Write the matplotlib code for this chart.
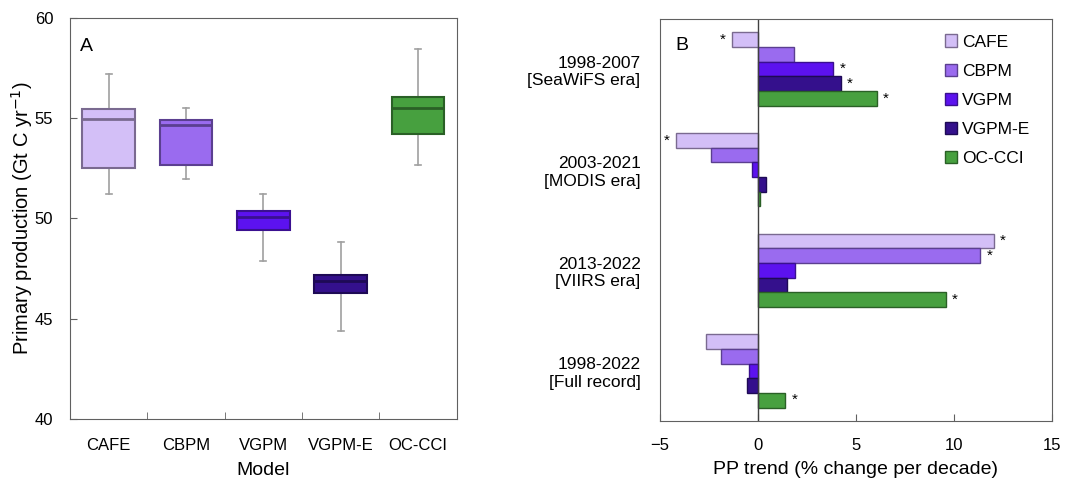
import numpy as np
import matplotlib
matplotlib.use("Agg")
import matplotlib.pyplot as plt

plt.rcParams['font.family'] = ['Liberation Sans', 'DejaVu Sans']
plt.rcParams['font.size'] = 12

# Panel A: box statistics per model
models = ["CAFE", "CBPM", "VGPM", "VGPM-E", "OC-CCI"]
whisk_lo = [51.2, 51.95, 47.9, 44.4, 52.65]
q1 = [52.5, 52.65, 49.4, 46.3, 54.2]
median = [54.95, 54.65, 50.05, 46.9, 55.5]
q3 = [55.45, 54.9, 50.35, 47.2, 56.05]
whisk_hi = [57.2, 55.5, 51.2, 48.85, 58.45]

# Panel B: PP trend (% change per decade)
periods = ["1998-2007\n[SeaWiFS era]", "2003-2021\n[MODIS era]",
           "2013-2022\n[VIIRS era]", "1998-2022\n[Full record]"]
trend = {
    "CAFE":   [-1.35, -4.2, 12.05, -2.65],
    "CBPM":   [1.82, -2.4, 11.35, -1.88],
    "VGPM":   [3.85, -0.33, 1.9, -0.45],
    "VGPM-E": [4.25, 0.4, 1.47, -0.58],
    "OC-CCI": [6.05, 0.12, 9.58, 1.4],
}
signif = {
    "CAFE":   [True, True, True, False],
    "CBPM":   [False, False, True, False],
    "VGPM":   [True, False, False, False],
    "VGPM-E": [True, False, False, False],
    "OC-CCI": [True, False, True, True],
}

colors = ["#d3bff7", "#9a6bef", "#5c12ef", "#34108c", "#47a03f"]
edges = ["#7a6a90", "#5b3f90", "#3a1090", "#1e0a55", "#2a6026"]

fig = plt.figure(figsize=(10.72, 4.83), dpi=100)
axA = fig.add_axes([0.0653, 0.1325, 0.3607, 0.8305])
axB = fig.add_axes([0.6157, 0.128, 0.3656, 0.833])

stats = []
for i, m in enumerate(models):
    stats.append(dict(label=m, whislo=whisk_lo[i], q1=q1[i], med=median[i],
                      q3=q3[i], whishi=whisk_hi[i], fliers=[]))
bp = axA.bxp(stats, positions=range(len(models)), widths=0.68, patch_artist=True,
             showfliers=False,
             whiskerprops=dict(color="#a0a0a0", lw=1.2, zorder=1),
             capprops=dict(color="#a0a0a0", lw=1.2),
             capwidths=0.08)
for i, box in enumerate(bp["boxes"]):
    box.set_facecolor(colors[i])
    box.set_edgecolor(edges[i])
    box.set_linewidth(1.5)
    box.set_zorder(3)
    bp["medians"][i].set_color(edges[i])
    bp["medians"][i].set_linewidth(2)
    bp["medians"][i].set_zorder(4)

axA.set_xlim(-0.5, 4.5)
axA.set_ylim(40, 60)
axA.set_yticks([40, 45, 50, 55, 60])
axA.set_xticks(range(len(models)))
axA.set_xticklabels(models)
axA.tick_params(axis="x", length=0, pad=14)
axA.set_xticks(np.arange(0.5, 4, 1), minor=True)
axA.tick_params(axis="x", which="minor", direction="in", length=5, color="#606060")
axA.tick_params(axis="y", direction="in", length=5, color="#606060", pad=12)
axA.set_xlabel("Model", fontsize=14, labelpad=6)
axA.set_ylabel("Primary production (Gt C yr$^{-1}$)", fontsize=14.5, labelpad=0)
axA.text(0.026, 0.95, "A", transform=axA.transAxes, fontsize=14, va="top")
for s in axA.spines.values():
    s.set_color("#606060")

# Panel B
bar_h = 0.146
y = np.arange(len(periods))
for j, m in enumerate(models):
    yy = y - 2 * bar_h + j * bar_h
    vals = trend[m]
    axB.barh(yy, vals, height=bar_h, color=colors[j], edgecolor=edges[j],
             lw=1, label=m)
    for k, v in enumerate(vals):
        if signif[m][k]:
            off = 0.45 if v >= 0 else -0.45
            axB.text(v + off, yy[k], "*", ha="center", va="center", fontsize=11)

axB.axvline(0, color="#404040", lw=1)
axB.set_xlim(-5, 15)
axB.set_ylim(3.5, -0.5)
axB.set_xticks([-5, 0, 5, 10, 15])
axB.set_yticks(y)
axB.set_yticklabels(periods, ha="right", fontsize=12.5)
axB.tick_params(axis="y", length=0, pad=14)
axB.tick_params(axis="x", direction="in", length=5, color="#606060", pad=12)
axB.set_xlabel("PP trend (% change per decade)", fontsize=14, labelpad=6)
axB.text(0.04, 0.955, "B", transform=axB.transAxes, fontsize=14, va="top")
for s in axB.spines.values():
    s.set_color("#606060")
axB.legend(loc="upper right", frameon=False, handlelength=0.7, handleheight=0.7,
           handletextpad=0.3, labelspacing=0.8, fontsize=12.5,
           bbox_to_anchor=(0.985, 1.0))

fig.savefig("out.png", dpi=100)
